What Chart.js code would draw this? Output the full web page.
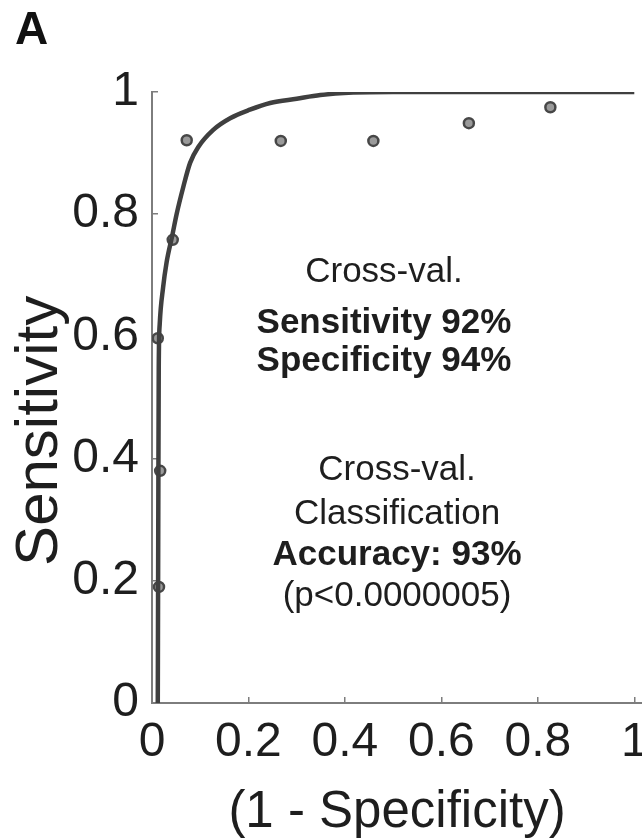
<!DOCTYPE html>
<html lang="en">
<head>
  <meta charset="UTF-8">
  <title>ROC curve</title>
  <script src="https://cdn.jsdelivr.net/npm/chart.js"></script>
  <style>
    html,body{margin:0;padding:0;background:#fff;overflow:hidden}
    #wrap{position:relative;width:642px;height:838px}
    canvas{display:block}
  </style>
</head>
<body>
<div id="wrap"><canvas id="roc"></canvas></div>
<script>
/* ---------- data ---------- */
// fitted ROC curve (1 - specificity, sensitivity)
const curveX = [0.012, 0.013, 0.014, 0.016, 0.023, 0.030, 0.042, 0.051, 0.065, 0.079, 0.096, 0.127, 0.162, 0.203, 0.245, 0.300, 0.349, 0.417, 0.500, 1.000];
const curveY = [0.000, 0.300, 0.550, 0.620, 0.680, 0.720, 0.765, 0.800, 0.845, 0.884, 0.910, 0.938, 0.957, 0.971, 0.982, 0.989, 0.995, 0.999, 1.000, 1.000];

// cross-validated operating points
const pointX = [0.0145, 0.017, 0.012, 0.043, 0.072, 0.267, 0.459, 0.657, 0.826];
const pointY = [0.19, 0.38, 0.597, 0.758, 0.921, 0.920, 0.920, 0.949, 0.975];

const tickValues = [0, 0.2, 0.4, 0.6, 0.8, 1];

const noteLines = ['Cross-val.', 'Sensitivity 92%', 'Specificity 94%', 'Cross-val.', 'Classification', 'Accuracy: 93%', '(p<0.0000005)'];
const noteBold  = [false, true, true, false, false, true, false];

const FONT = "'Liberation Sans', Arial, Helvetica, sans-serif";
const INK = '#1e1e1e';
const AXIS = '#7d7d7d';

/* ---------- text block inside the axes ---------- */
const notesPlugin = {
  id: 'notes',
  afterDatasetsDraw(chart, args, opts){
    const {ctx, scales:{x, y}} = chart;
    ctx.save();
    ctx.fillStyle = INK;
    ctx.textAlign = 'center';
    ctx.textBaseline = 'middle';
    noteLines.forEach((txt, i) => {
      ctx.font = (noteBold[i] ? 'bold ' : '') + opts.size + 'px ' + FONT;
      ctx.fillText(txt, x.getPixelForValue(opts.at[i][0]), y.getPixelForValue(opts.at[i][1]));
    });
    ctx.restore();
  }
};

const keepTicks = scale => { scale.ticks = tickValues.map(v => ({value: v})); };

// let the "1" label run to the canvas edge like the original
const fitX = s => {
  s.height = 135;
  s.paddingLeft = 0;
  s.paddingRight = 0;
};

new Chart(document.getElementById('roc'), {
  type: 'line',
  data: {
    datasets: [
      {
        data: curveX.map((v, i) => ({x: v, y: curveY[i]})),
        borderColor: '#3f3f3f',
        borderWidth: 4.5,
        pointRadius: 0,
        cubicInterpolationMode: 'monotone',
        fill: false
      },
      {
        type: 'scatter',
        data: pointX.map((v, i) => ({x: v, y: pointY[i]})),
        pointRadius: 5,
        pointBorderWidth: 2.5,
        pointBorderColor: '#474747',
        pointBackgroundColor: '#9a9a9a',
        showLine: false
      }
    ]
  },
  options: {
    responsive: true,
    maintainAspectRatio: false,
    animation: false,
    layout: {autoPadding: false, padding: {left: 15, right: 0, top: 0, bottom: 0}},
    plugins: {
      legend: {display: false},
      tooltip: {enabled: false},
      title: {
        display: true,
        text: 'A',
        align: 'start',
        color: '#111',
        font: {family: FONT, size: 46, weight: 'bold', lineHeight: 1},
        padding: {top: 8, bottom: 38}
      },
      notes: {
        size: 35,
        at: [[0.481, 0.705], [0.481, 0.621], [0.481, 0.559], [0.508, 0.380], [0.508, 0.308], [0.508, 0.241], [0.508, 0.175]]
      }
    },
    scales: {
      x: {
        type: 'linear',
        min: 0,
        max: 1.016,
        afterBuildTicks: keepTicks,
        afterFit: fitX,
        border: {display: true, color: AXIS, width: 2},
        grid: {drawOnChartArea: false, drawTicks: true, tickLength: -6, color: AXIS, lineWidth: 1.5},
        ticks: {color: INK, padding: 17, maxRotation: 0, font: {family: FONT, size: 48, lineHeight: 1.2},
                callback: v => String(v)},
        title: {display: true, text: '(1 - Specificity)', color: INK, padding: {top: 0, bottom: 0},
                font: {family: FONT, size: 51, lineHeight: 1}}
      },
      y: {
        type: 'linear',
        min: 0,
        max: 1,
        afterBuildTicks: keepTicks,
        afterFit: s => { s.width = 137; },
        border: {display: true, color: AXIS, width: 2},
        grid: {drawOnChartArea: false, drawTicks: true, tickLength: -6, color: AXIS, lineWidth: 1.5},
        ticks: {color: INK, padding: 19, font: {family: FONT, size: 48, lineHeight: 1.2},
                callback: v => String(v)},
        // trailing spaces push the rotated label down, as in the original
        title: {display: true, text: 'Sensitivity    ', color: INK, padding: {top: 0, bottom: 0},
                font: {family: FONT, size: 60, lineHeight: 0.85}}
      }
    }
  },
  plugins: [notesPlugin]
});
</script>
</body>
</html>
